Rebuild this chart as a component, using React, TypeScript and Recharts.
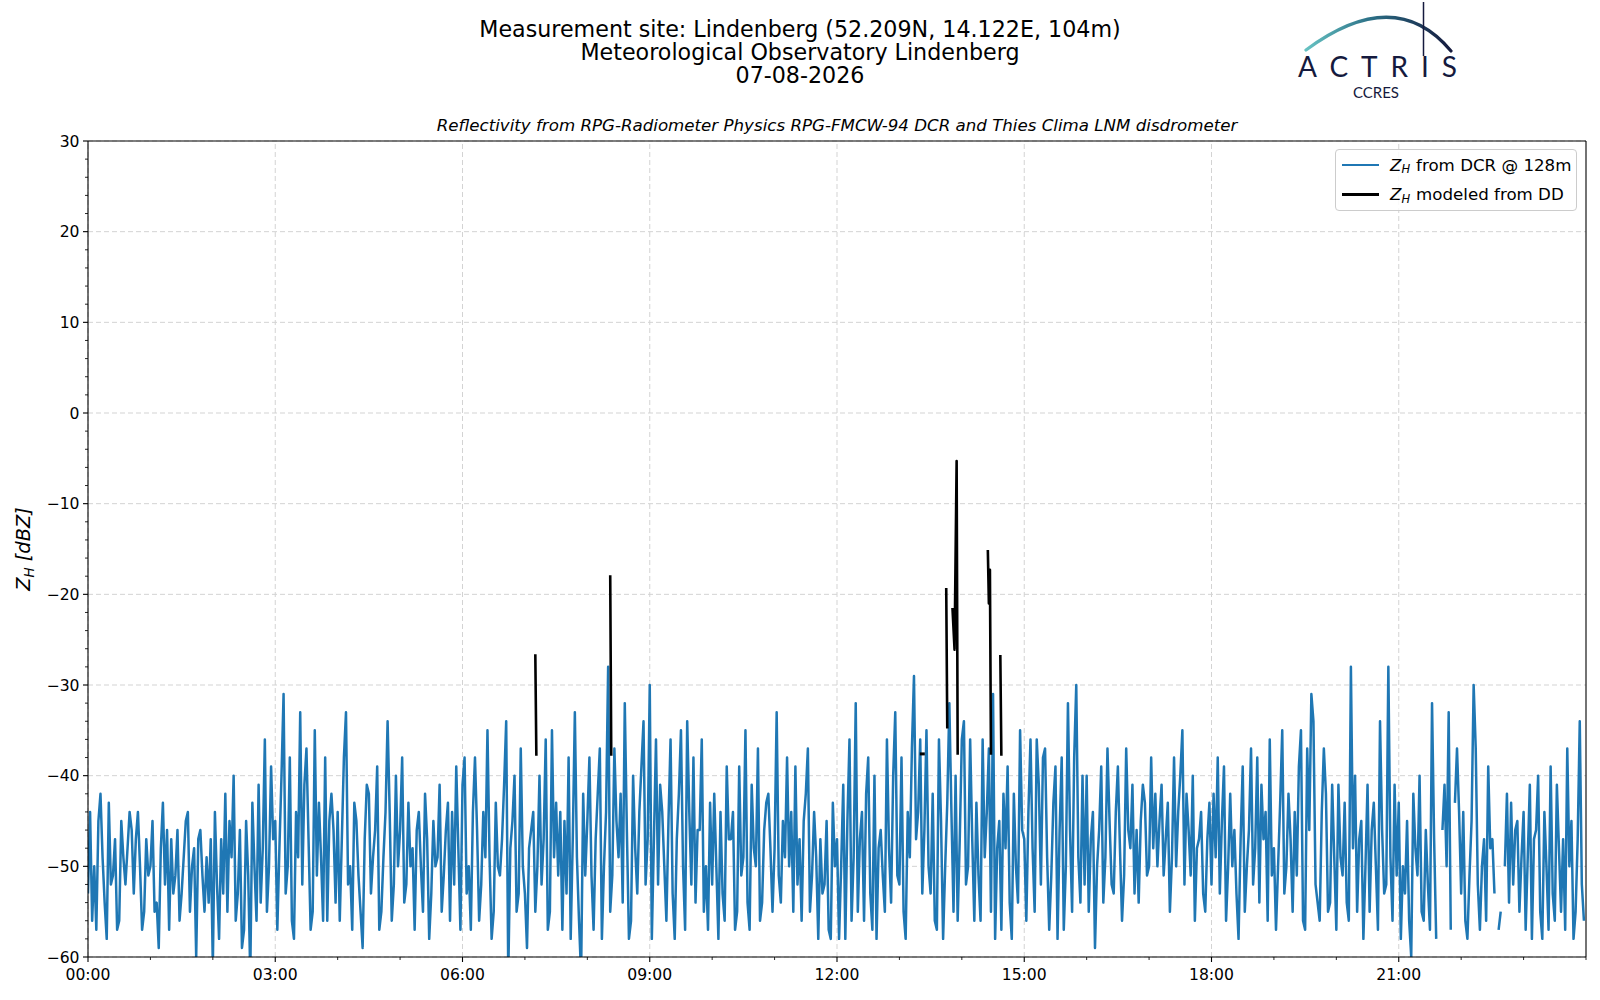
import React from "react";
import { LineChart, Line, XAxis, YAxis, ReferenceLine, Legend } from "recharts";

// DCR reflectivity at 128 m, one reading every 2 minutes, one row per hour (dBZ)
const dcrStepMinutes = 2;
const dcrValues: (number | null)[] = [
  -53, -44, -56, -50, -57, -45, -42, -49, -54, -58, -43, -52, -51, -47, -57, -56, -45, -49, -52, -48, -44, -46, -53, -47, -44, -50, -57, -55, -47, -51,
  -50, -45, -55, -54, -59, -48, -43, -52, -46, -57, -47, -53, -51, -46, -56, -53, -49, -45, -44, -55, -50, -48, -60, -47, -46, -51, -55, -49, -54, -47,
  -61, -44, -52, -58, -47, -53, -42, -55, -45, -49, -40, -56, -53, -46, -59, -57, -45, -51, -62, -43, -50, -56, -41, -54, -48, -36, -55, -50, -39, -47,
  -45, -57, -48, -40, -31, -53, -50, -38, -56, -58, -44, -49, -33, -52, -41, -37, -47, -57, -55, -35, -51, -43, -49, -56, -38, -56, -45, -42, -46, -54,
  -44, -56, -47, -38, -33, -52, -50, -57, -43, -45, -51, -55, -59, -47, -41, -42, -53, -49, -46, -39, -57, -55, -49, -44, -34, -44, -56, -52, -40, -50,
  -46, -38, -54, -52, -43, -50, -48, -57, -46, -44, -50, -55, -42, -47, -58, -53, -45, -50, -49, -41, -55, -51, -46, -43, -56, -44, -52, -39, -48, -57,
  -41, -38, -53, -50, -57, -44, -38, -46, -56, -52, -44, -49, -35, -49, -58, -55, -43, -50, -51, -47, -41, -34, -62, -48, -45, -40, -55, -53, -37, -50,
  -53, -59, -48, -46, -44, -55, -50, -40, -52, -47, -36, -57, -55, -35, -49, -43, -51, -44, -57, -45, -53, -38, -58, -47, -33, -49, -56, -62, -42, -51,
  -45, -38, -51, -57, -47, -42, -37, -58, -50, -44, -28, -55, -51, -37, -45, -49, -42, -54, -32, -46, -58, -56, -40, -48, -53, -44, -39, -34, -52, -47,
  -30, -58, -47, -36, -52, -41, -44, -50, -56, -45, -36, -53, -58, -47, -42, -35, -50, -57, -34, -44, -52, -38, -54, -46, -46, -36, -55, -50, -57, -43,
  -52, -42, -50, -58, -44, -53, -56, -39, -47, -47, -44, -57, -55, -39, -51, -49, -35, -54, -57, -41, -48, -50, -37, -56, -54, -46, -43, -42, -48, -55,
  -48, -33, -51, -54, -45, -49, -38, -50, -44, -55, -39, -52, -47, -56, -45, -42, -37, -55, -51, -44, -49, -58, -47, -53, -52, -45, -57, -58, -43, -50,
  -47, -58, -50, -41, -58, -45, -36, -56, -49, -32, -55, -47, -44, -56, -42, -38, -53, -57, -40, -58, -48, -46, -51, -55, -36, -48, -54, -40, -33, -51,
  -52, -38, -55, -58, -44, -49, -37, -29, -47, -44, -36, -53, -46, -35, -50, -53, -42, -56, -57, -36, -45, -58, -50, -43, -32, -44, -55, -40, -56, -47,
  -36, -34, -52, -50, -36, -47, -56, -43, -51, -56, -36, -49, -44, -37, -55, -31, -58, -48, -45, -57, -42, -48, -39, -54, -58, -42, -50, -54, -35, -46,
  -47, -56, -44, -36, -48, -55, -36, -41, -52, -38, -37, -49, -57, -51, -43, -39, -58, -46, -38, -57, -50, -32, -46, -55, -38, -30, -49, -54, -40, -52,
  -40, -55, -47, -44, -59, -50, -46, -39, -54, -49, -37, -45, -52, -53, -44, -39, -48, -56, -51, -37, -46, -48, -41, -53, -46, -54, -45, -41, -43, -51,
  -50, -38, -48, -42, -50, -45, -41, -51, -47, -43, -55, -49, -38, -50, -44, -40, -35, -52, -42, -46, -51, -40, -56, -48, -47, -44, -53, -55, -47, -43,
  -52, -42, -49, -38, -53, -45, -39, -56, -50, -42, -50, -46, -53, -58, -47, -39, -55, -50, -46, -37, -52, -48, -38, -54, -41, -47, -44, -56, -36, -51,
  -48, -57, -50, -43, -35, -53, -50, -42, -47, -55, -44, -51, -39, -35, -56, -57, -37, -46, -31, -34, -52, -54, -56, -44, -37, -42, -55, -54, -41, -49,
  -57, -41, -49, -51, -43, -54, -56, -28, -48, -40, -55, -47, -45, -58, -50, -41, -55, -46, -43, -50, -57, -34, -46, -53, -52, -28, -49, -56, -41, -51,
  -43, -58, -50, -53, -45, -56, -60, -42, -48, -51, -40, -55, -56, -46, -52, -57, -32, -47, -58, null, null, -46, -41, -50, -33, -57, null, -43, -37, -44,
  -53, -44, -56, -58, -51, -45, -30, -37, -52, -57, -50, -47, -56, -39, -48, -47, -53, null, -57, -55, null, -50, -42, -54, -43, -52, -46, -45, -55, -49,
  -44, -57, -49, -41, -58, -47, -46, -40, -55, -58, -44, -50, -57, -39, -53, -56, -41, -48, -55, -47, -57, -37, -50, -45, -58, -55, -47, -34, -52, -56,
];

// Disdrometer-modeled reflectivity: minute of day and value, null breaks the line
const ddTimes = [430, 431, 432, 502, 503, 504, 802, 803, 825, 826, 827, 831, 833, 835, 836, 837, 865, 866, 867, 868, 869, 877, 878];
const ddValues: (number | null)[] = [
  -26.6, -37.8, null, -17.9, -37.8, null, -37.6, null, -19.3, -34.8, null, -21.5, -26.1, -5.3, -37.7, null,
  -15.1, -21.0, -17.3, -37.7, null, -26.7, -37.8,
];

const xMajorTicks = [0, 180, 360, 540, 720, 900, 1080, 1260];
const xTickLabels = ["00:00", "03:00", "06:00", "09:00", "12:00", "15:00", "18:00", "21:00"];
const xMinorTicks = [0, 60, 120, 180, 240, 300, 360, 420, 480, 540, 600, 660, 720, 780, 840, 900, 960, 1020, 1080, 1140, 1200, 1260, 1320, 1380, 1440];
const yMajorTicks = [-60, -50, -40, -30, -20, -10, 0, 10, 20, 30];
const yMinorTicks = Array.from({ length: 46 }, (_, i) => -60 + i * 2);

const legendItems = [
  { label: "from DCR @ 128m", color: "#1f77b4" },
  { label: "modeled from DD", color: "#000000" },
];

const FONT = "'DejaVu Sans', sans-serif";

const dcrData = dcrValues.map((z, i) => ({ t: i * dcrStepMinutes, z }));
const ddData = ddTimes.map((t, i) => ({ t, z: ddValues[i] }));

const fmtY = (v: number) => (v < 0 ? "\u2212" + Math.abs(v) : String(v));

// x ticks: long tick + label on major hours, short tick on the others
const XTick = (props: any) => {
  const { x, y, payload } = props;
  const major = xMajorTicks.indexOf(payload.value);
  return (
    <g>
      <line x1={x} x2={x} y1={y} y2={y + (major >= 0 ? 5 : 3)} stroke="#000" strokeWidth={major >= 0 ? 1.1 : 0.85} />
      {major >= 0 && (
        <text x={x} y={y + 23} textAnchor="middle" fontSize={15.6} fontFamily={FONT} fill="#000">
          {xTickLabels[major]}
        </text>
      )}
    </g>
  );
};

const YTick = (props: any) => {
  const { x, y, payload } = props;
  const major = yMajorTicks.includes(payload.value);
  return (
    <g>
      <line x1={x} x2={x - (major ? 5 : 3)} y1={y} y2={y} stroke="#000" strokeWidth={major ? 1.1 : 0.85} />
      {major && (
        <text x={x - 8.5} y={y + 5.5} textAnchor="end" fontSize={15.6} fontFamily={FONT} fill="#000">
          {fmtY(payload.value)}
        </text>
      )}
    </g>
  );
};

const renderDdDot = (props: any) => {
  const { cx, cy, index } = props;
  const isolated = ddValues[index] != null && ddValues[index - 1] == null && ddValues[index + 1] == null;
  if (!isolated || cx == null || cy == null) return <g key={`dd-${index}`} />;
  return <rect key={`dd-${index}`} x={cx - 2.5} y={cy - 1.5} width={5} height={3} fill="#000" />;
};

const LegendBox = () => (
  <div
    style={{
      position: "relative",
      width: 242,
      height: 62,
      boxSizing: "border-box",
      border: "1px solid #cccccc",
      borderRadius: 4,
      background: "rgba(255,255,255,0.85)",
      fontFamily: FONT,
      fontSize: 16.67,
      color: "#000",
    }}
  >
    {legendItems.map((item, i) => (
      <div key={i} style={{ position: "absolute", left: 6, top: 4 + i * 29.5, height: 22, display: "flex", alignItems: "center", whiteSpace: "nowrap" }}>
        <span style={{ display: "inline-block", width: 37, height: 2.6, background: item.color, marginRight: 11 }} />
        <span style={{ fontStyle: "italic" }}>Z</span>
        <span style={{ fontStyle: "italic", fontSize: 11.5, position: "relative", top: 4 }}>H</span>
        <span style={{ marginLeft: 6 }}>{item.label}</span>
      </div>
    ))}
  </div>
);

const App: React.FC = () => {
  return (
    <div style={{ position: "absolute", left: 0, top: 0, width: 1600, height: 1000, background: "#fff", fontFamily: FONT }}>
      <LineChart width={1600} height={1000} margin={{ top: 141, right: 14, bottom: 13, left: 28 }}>
        {/* dashed grid on the major ticks */}
        {xMajorTicks.map((v) => (
          <ReferenceLine key={`gx${v}`} x={v} stroke="#d3d3d3" strokeDasharray="5 3" strokeWidth={1} />
        ))}
        {yMajorTicks.map((v) => (
          <ReferenceLine key={`gy${v}`} y={v} stroke="#d3d3d3" strokeDasharray="5 3" strokeWidth={1} />
        ))}

        <XAxis
          type="number"
          dataKey="t"
          domain={[0, 1440]}
          ticks={xMinorTicks}
          interval={0}
          allowDataOverflow
          height={30}
          tickSize={0}
          tickMargin={0}
          tickLine={false}
          tick={<XTick />}
          axisLine={{ stroke: "#000", strokeWidth: 1.1 }}
        />
        <YAxis
          type="number"
          domain={[-60, 30]}
          ticks={yMinorTicks}
          interval={0}
          allowDataOverflow
          width={60}
          tickSize={0}
          tickMargin={0}
          tickLine={false}
          tick={<YTick />}
          axisLine={{ stroke: "#000", strokeWidth: 1.1 }}
        />

        {/* top and right spines */}
        <ReferenceLine y={30} stroke="#000" strokeWidth={1.1} />
        <ReferenceLine x={1440} stroke="#000" strokeWidth={1.1} />

        <Line
          data={dcrData}
          dataKey="z"
          type="linear"
          stroke="#1f77b4"
          strokeWidth={2.5}
          strokeLinejoin="round"
          dot={false}
          activeDot={false}
          connectNulls={false}
          isAnimationActive={false}
        />
        <Line
          data={ddData}
          dataKey="z"
          type="linear"
          stroke="#000000"
          strokeWidth={2.6}
          strokeLinejoin="round"
          dot={renderDdDot}
          activeDot={false}
          connectNulls={false}
          isAnimationActive={false}
        />

        <Legend
          layout="vertical"
          align="center"
          verticalAlign="middle"
          content={() => <LegendBox />}
          wrapperStyle={{ left: 1335, top: 149, width: 242, height: 62 }}
        />
      </LineChart>

      {/* titles, axis label and logo */}
      <svg width={1600} height={1000} style={{ position: "absolute", left: 0, top: 0, pointerEvents: "none" }}>
        <defs>
          <linearGradient id="arcGrad" x1="0" y1="0" x2="1" y2="0">
            <stop offset="0%" stopColor="#66c2c2" />
            <stop offset="45%" stopColor="#2b6f86" />
            <stop offset="100%" stopColor="#151a3e" />
          </linearGradient>
        </defs>
        <g fontFamily={FONT} fill="#000" textAnchor="middle">
          <text x={800} y={36.5} fontSize={22.2}>Measurement site: Lindenberg (52.209N, 14.122E, 104m)</text>
          <text x={800} y={60} fontSize={22.2}>Meteorological Observatory Lindenberg</text>
          <text x={800} y={83} fontSize={22.2}>07-08-2026</text>
          <text x={837} y={131} fontSize={16.67} fontStyle="italic">
            Reflectivity from RPG-Radiometer Physics RPG-FMCW-94 DCR and Thies Clima LNM disdrometer
          </text>
          <text x={30} y={549} fontSize={19.4} fontStyle="italic" transform="rotate(-90 30 549)">
            Z<tspan fontSize={13.5} dy={4}>H</tspan>
            <tspan dy={-4}> [dBZ]</tspan>
          </text>
        </g>

        <path d="M 1306 50 Q 1395 -16 1451 51" fill="none" stroke="url(#arcGrad)" strokeWidth={3.2} strokeLinecap="round" />
        <line x1={1423.5} x2={1423.5} y1={2} y2={56} stroke="#151a3e" strokeWidth={1.5} />
        <text x={1298} y={77} fontSize={28} fontFamily="Lato, sans-serif" fill="#151a3e" textLength={159} lengthAdjust="spacing">
          ACTRIS
        </text>
        <text x={1376} y={98} fontSize={15} fontFamily="Lato, sans-serif" fill="#151a3e" textAnchor="middle">
          CCRES
        </text>
      </svg>
    </div>
  );
};

export default App;
